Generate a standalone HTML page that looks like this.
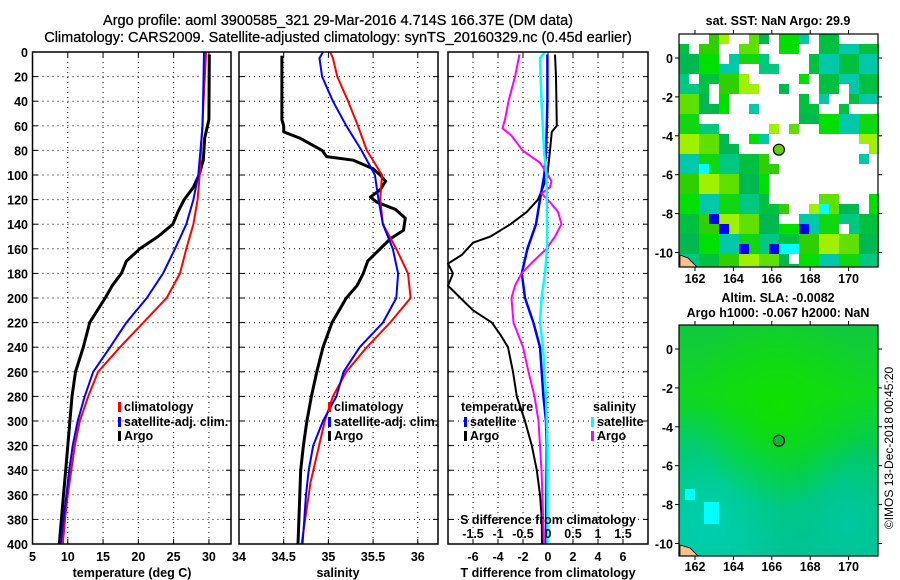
<!DOCTYPE html>
<html><head><meta charset="utf-8"><style>
html,body{margin:0;padding:0;background:#fff;}
svg{display:block;font-family:"Liberation Sans",Arial,sans-serif;}
.tk{font-size:12.5px;font-weight:bold;fill:#000;}
.tt{font-size:14.5px;fill:#000;stroke:#000;stroke-width:0.25;}
</style></head><body>
<svg id="fig" width="900" height="580" viewBox="0 0 900 580" xmlns="http://www.w3.org/2000/svg">
<rect width="900" height="580" fill="#fff"/>
<text class="tt" x="338" y="25" text-anchor="middle">Argo profile: aoml 3900585_321 29-Mar-2016 4.714S 166.37E (DM data)</text>
<text class="tt" x="338" y="42" text-anchor="middle">Climatology: CARS2009. Satellite-adjusted climatology: synTS_20160329.nc (0.45d earlier)</text>
<g id="p1"></g>
<g id="p2"></g>
<g id="p3"></g>
<g id="m1"></g>
<g id="m2"></g>
<text x="893" y="448" font-size="12" text-anchor="middle" transform="rotate(-90 893 448)">©IMOS 13-Dec-2018 00:45:20</text>
</svg>
<script>
// ---- data ----
const depthTicks=[0,20,40,60,80,100,120,140,160,180,200,220,240,260,280,300,320,340,360,380,400];
const tempTicks=[5,10,15,20,25,30];
const salTicks=[34,34.5,35,35.5,36];
const tdTicks=[-6,-4,-2,0,2,4,6];
const sdTicks=[-1.5,-1,-0.5,0,0.5,1,1.5];
const tClimD=[0,100,120,140,160,180,200,220,240,260,280,300,320,340,360,380,400];
const tClim=[29.6,28.7,28.4,27.8,26.8,25.9,24.0,20.7,17.4,14.3,12.9,11.7,11.0,10.5,10.0,9.6,9.3];
const tSatD=[0,60,100,120,140,160,180,200,220,240,260,280,300,320,340,360,380,400];
const tSat=[29.3,29.1,28.5,27.8,26.8,25.2,23.5,21.2,18.3,16.0,13.6,12.4,11.4,10.7,10.2,9.8,9.4,9.0];
const tArgoD=[2,55,60,70,88,100,110,120,130,140,150,160,170,180,190,200,210,220,240,260,280,300,320,340,360,380,400];
const tArgo=[30.05,30.0,29.8,29.4,29.2,28.6,27.8,26.5,25.6,24.9,22.8,20.2,18.3,17.6,16.3,15.3,14.2,13.1,12.2,11.1,10.6,10.3,10.0,9.7,9.4,9.1,8.8];
const sClimD=[0,5,20,40,60,80,100,120,140,160,180,200,220,240,260,280,300,350,400];
const sClim=[35.02,35.05,35.1,35.22,35.33,35.43,35.6,35.58,35.61,35.76,35.89,35.92,35.69,35.43,35.2,35.05,34.96,34.8,34.7];
const sSatD=[0,5,20,40,60,80,100,120,140,160,180,200,220,240,260,280,300,320,340,360,380,400];
const sSat=[34.94,34.9,34.93,35.05,35.2,35.37,35.52,35.56,35.61,35.72,35.78,35.76,35.61,35.35,35.17,35.09,34.94,34.83,34.78,34.75,34.73,34.71];
const sArgoD=[3,55,60,65,70,80,85,88,95,100,105,112,118,122,128,135,145,152,160,170,180,190,200,220,240,260,280,300,320,340,360,380,400];
const sArgo=[34.48,34.48,34.5,34.5,34.68,34.93,34.98,35.28,35.5,35.58,35.64,35.58,35.47,35.54,35.75,35.86,35.84,35.69,35.58,35.44,35.39,35.32,35.2,35.04,34.94,34.87,34.81,34.76,34.72,34.69,34.68,34.67,34.66];
const dtArgoD=[2,20,60,65,80,100,110,120,130,140,150,155,165,172,180,190,200,210,220,230,240,260,280,300,320,340,360,380,400];
const dtArgo=[0.56,0.64,0.7,0.3,0.16,-0.05,-0.4,-0.8,-1.7,-3.0,-4.6,-6.0,-6.9,-8.0,-7.6,-8.0,-7.0,-6.0,-4.5,-3.8,-3.2,-2.8,-2.5,-1.84,-1.3,-0.9,-0.64,-0.5,-0.48];
const dtSatD=[2,40,60,80,100,120,140,160,180,200,220,240,280,300,320,400];
const dtSat=[-0.05,-0.05,-0.1,-0.15,-0.3,-0.64,-0.96,-1.65,-2.1,-1.84,-1.17,-0.64,-0.37,-0.16,-0.1,-0.16];
const dsArgoD=[2,20,40,55,62,68,75,80,90,100,105,110,115,122,130,140,150,160,170,180,190,200,220,240,260,280,300,340,400];
const dsArgo=[-0.57,-0.66,-0.79,-0.86,-0.91,-0.73,-0.6,-0.51,-0.16,0,0.07,0.04,-0.13,0.04,0.2,0.27,0.14,-0.03,-0.29,-0.53,-0.66,-0.73,-0.69,-0.5,-0.39,-0.27,-0.19,-0.13,-0.08];
const dsSatD=[0,5,40,80,100,140,160,180,200,220,240,280,320,400];
const dsSat=[-0.06,-0.16,-0.13,-0.08,-0.03,-0.02,-0.02,-0.06,-0.13,-0.16,-0.1,-0.04,-0.01,-0.01];
const latTicks=[0,-2,-4,-6,-8,-10];
const lonTicks=[162,164,166,168,170];
const argoLon=166.37, argoLat=-4.714;

const NS="http://www.w3.org/2000/svg";
function mk(tag,attrs,parent){const e=document.createElementNS(NS,tag);for(const k in attrs)e.setAttribute(k,attrs[k]);parent.appendChild(e);return e;}
function txt(s,x,y,anchor,cls,parent){const t=mk('text',{x:x,y:y,'text-anchor':anchor,class:cls||'tk'},parent);t.textContent=s;return t;}
const TOP=52,BOT=544;
const yD=d=>TOP+(BOT-TOP)*d/400;

function panel(g,x0,x1,xmin,xmax,xticks,fmt,showY){
  const xs=v=>x0+(x1-x0)*(v-xmin)/(xmax-xmin);
  const grid=mk('g',{},g);
  
  
  xticks.forEach(v=>{const x=xs(v);if(x>x0+1&&x<x1-1)mk('line',{x1:x,y1:TOP,x2:x,y2:BOT,stroke:'#000','stroke-width':1,'stroke-dasharray':'1 4'},grid);
    mk('line',{x1:x,y1:BOT,x2:x,y2:BOT-5,stroke:'#000'},grid);mk('line',{x1:x,y1:TOP,x2:x,y2:TOP+5,stroke:'#000'},grid);});
  depthTicks.forEach(d=>{const y=yD(d);if(d>0&&d<400)mk('line',{x1:x0,y1:y,x2:x1,y2:y,stroke:'#000','stroke-width':1,'stroke-dasharray':'1 4'},grid);
    mk('line',{x1:x0,y1:y,x2:x0+5,y2:y,stroke:'#000'},grid);mk('line',{x1:x1,y1:y,x2:x1-5,y2:y,stroke:'#000'},grid);});
  if(xticks.length){const lab=mk('g',{},g);
    
    
    xticks.forEach(v=>txt(fmt(v),xs(v),561,'middle','tk',lab));}
  if(showY){const lab=mk('g',{},g);
    
    
    depthTicks.forEach(d=>txt(String(d),28,yD(d)+5,'end','tk',lab));}
  return xs;
}
function frame(g,x0,x1){const r=mk('rect',{x:x0,y:TOP,width:x1-x0,height:BOT-TOP,fill:'none',stroke:'#000','stroke-width':1.5},g);
  
  }
function line(g,xs,vals,ds,color,w,name){
  const pts=vals.map((v,i)=>xs(v).toFixed(1)+','+yD(ds[i]).toFixed(1)).join(' ');
  const p=mk('polyline',{points:pts,fill:'none',stroke:color,'stroke-width':w,'stroke-linejoin':'round'},g);
  
  
}
function legend(g,x,y,color,label,name){
  const lg=mk('g',{},g);
  
  
  if(color)mk('rect',{x:x,y:y-9,width:3,height:10,fill:color},lg);
  txt(label,x+(color?6:0),y,'start','tk',lg);
}
// Panel 1
const g1=document.getElementById('p1');
const xs1=panel(g1,32.5,231,5,33.13,tempTicks,v=>String(v),true);
line(g1,xs1,tArgo,tArgoD,'#000',3,'argo-temperature-line');
line(g1,xs1,tClim,tClimD,'#f00',2,'climatology-temperature-line');
line(g1,xs1,tSat,tSatD,'#00f',2,'satellite-temperature-line');
frame(g1,32.5,231);
legend(g1,118,411,'#f00','climatology','legend-climatology');
legend(g1,118,426,'#00f','satellite-adj. clim.','legend-satellite');
legend(g1,118,440,'#000','Argo','legend-argo');
txt('temperature (deg C)',132,577,'middle','tk',g1);
// Panel 2
const g2=document.getElementById('p2');
const xs2=panel(g2,239,438,34,36.226,salTicks,v=>String(v),false);
line(g2,xs2,sArgo,sArgoD,'#000',3,'argo-salinity-line');
line(g2,xs2,sClim,sClimD,'#f00',2,'climatology-salinity-line');
line(g2,xs2,sSat,sSatD,'#00f',2,'satellite-salinity-line');
frame(g2,239,438);
legend(g2,328,411,'#f00','climatology','legend-climatology');
legend(g2,328,426,'#00f','satellite-adj. clim.','legend-satellite');
legend(g2,328,440,'#000','Argo','legend-argo');
txt('salinity',338,577,'middle','tk',g2);
// Panel 3
const g3=document.getElementById('p3');
const xs3=panel(g3,448,648,-8,8,tdTicks,v=>String(v),false);
const xsS=v=>548+50*v;
line(g3,xs3,dtArgo,dtArgoD,'#000',2,'argo-t-difference-line');
line(g3,xs3,dtSat,dtSatD,'#00f',2.5,'satellite-t-difference-line');
line(g3,xsS,dsArgo,dsArgoD,'#f0f',2,'argo-s-difference-line');
line(g3,xsS,dsSat,dsSatD,'#0ff',2.5,'satellite-s-difference-line');
frame(g3,448,648);
const sl=mk('g',{},g3);


txt('S difference from climatology',548,524,'middle','tk',sl);
sdTicks.forEach(v=>txt(String(v),xsS(v),538,'middle','tk',sl));
legend(g3,461,411,null,'temperature','legend-temperature-header');
legend(g3,464,426,'#00f','satellite','legend-t-satellite');
legend(g3,464,440,'#000','Argo','legend-t-argo');
legend(g3,593,411,null,'salinity','legend-salinity-header');
legend(g3,591,426,'#0ff','satellite','legend-s-satellite');
legend(g3,591,440,'#f0f','Argo','legend-s-argo');
txt('T difference from climatology',548,577,'middle','tk',g3);

// Maps
const LX0=679,LX1=878;
const lonX=l=>695+(l-162)*19.2;
function mapAxes(g,y0,y1,lat0y,lab){
  const r=mk('rect',{x:LX0,y:y0,width:LX1-LX0,height:y1-y0,fill:'none',stroke:'#000','stroke-width':1.2},g);
  
  
  latTicks.forEach(la=>{const y=lat0y-la*19.45;
    mk('line',{x1:LX0-4,y1:y,x2:LX0,y2:y,stroke:'#000'},g);mk('line',{x1:LX1,y1:y,x2:LX1+4,y2:y,stroke:'#000'},g);
    txt(String(la),673,y+5,'end','tk',g);});
  lonTicks.forEach(lo=>{const x=lonX(lo);
    mk('line',{x1:x,y1:y1,x2:x,y2:y1+4,stroke:'#000'},g);mk('line',{x1:x,y1:y0-4,x2:x,y2:y0,stroke:'#000'},g);
    txt(String(lo),x,lab,'middle','tk',g);});
}
// SST map
const m1=document.getElementById('m1');
const mask=[
"...##..##.###.##....",
"#.##..##..##..######",
"####.####....#######",
"######..##...#######",
"#.#####.....#.######",
"###.####..#...##.###",
"###.#.......#.#..###",
"#####..#....##..#...",
"##..........########",
"####.....#.#..######",
"#####..##.........##",
"######.............#",
"#########.........#.",
"##########..........",
"#########...........",
"#########...........",
"#########.....##...#",
"###########..#####.#",
"##########..########",
"################.###",
"####################",
"####################",
"###########.########",
"####################"];
const pal=["#00c040","#10d810","#00e000","#60e000","#30d000","#00c880","#00c8a8","#00b850","#a0f000"];
const y1top=34,y1bot=267;
const cg=mk('g',{},m1);


for(let r=0;r<mask.length;r++)for(let c=0;c<20;c++){
  if(mask[r][c]!=='#')continue;
  const y=y1top+r*10; if(y>=y1bot)continue;
  const h=Math.min(10,y1bot-y);
  const k=(Math.floor(r/2)*7+Math.floor(c/2)*13)%pal.length;
  let col=pal[k];
  if(c>12&&r<8)col=((Math.floor(r/2)+Math.floor(c/2))%2==0)?"#00c8a8":"#00c040";
  mk('rect',{x:LX0+c*10,y:y,width:10,height:h,fill:col},cg);
}
[[3,18,'#0000ff'],[4,19,'#0000ff'],[6,21,'#0000ff'],[9,21,'#0000ff'],[10,21,'#00ffff'],[11,21,'#00ffff'],[14,17,'#00ffff'],[12,19,'#0000ff'],[2,13,'#00ffff']].forEach(a=>{
  mk('rect',{x:LX0+a[0]*10,y:y1top+a[1]*10,width:10,height:Math.min(10,y1bot-(y1top+a[1]*10)),fill:a[2]},cg);});
mk('path',{d:'M680,255 L688,258 L697,267 L680,267 Z',fill:'#f8c090',stroke:'#000','stroke-width':0.8},m1);
const c1=mk('circle',{cx:lonX(argoLon),cy:58-argoLat*19.45,r:5.5,fill:'#60d000',stroke:'#000','stroke-width':1.2},m1);


mapAxes(m1,y1top,y1bot,58,283);
txt('sat. SST: NaN Argo: 29.9',778,25,'middle','tk',m1);
// SLA map
const m2=document.getElementById('m2');
const defs=mk('defs',{},m2);
const lg=mk('linearGradient',{id:'g2a',x1:0,y1:0,x2:0,y2:1},defs);
mk('stop',{offset:'0','stop-color':'#10c840'},lg);mk('stop',{offset:'0.3','stop-color':'#10d820'},lg);mk('stop',{offset:'0.6','stop-color':'#00c860'},lg);mk('stop',{offset:'1','stop-color':'#00c090'},lg);
const rg=mk('radialGradient',{id:'g2b',cx:0.5,cy:0.35,r:0.45},defs);
mk('stop',{offset:'0','stop-color':'#10e000','stop-opacity':1},rg);mk('stop',{offset:'1','stop-color':'#10e000','stop-opacity':0},rg);
const rg2=mk('radialGradient',{id:'g2c',cx:0.15,cy:0.85,r:0.5},defs);
mk('stop',{offset:'0','stop-color':'#00d0b0','stop-opacity':1},rg2);mk('stop',{offset:'1','stop-color':'#00d0b0','stop-opacity':0},rg2);
const rg3=mk('radialGradient',{id:'g2d',cx:0.85,cy:0.85,r:0.35},defs);
mk('stop',{offset:'0','stop-color':'#00c8a0','stop-opacity':1},rg3);mk('stop',{offset:'1','stop-color':'#00c8a0','stop-opacity':0},rg3);
const y2top=325,y2bot=556;
mk('rect',{x:LX0,y:y2top,width:LX1-LX0,height:y2bot-y2top,fill:'url(#g2a)'},m2);
mk('rect',{x:LX0,y:y2top,width:LX1-LX0,height:y2bot-y2top,fill:'url(#g2c)'},m2);
mk('rect',{x:LX0,y:y2top,width:LX1-LX0,height:y2bot-y2top,fill:'url(#g2d)'},m2);
mk('rect',{x:LX0,y:y2top,width:LX1-LX0,height:y2bot-y2top,fill:'url(#g2b)'},m2);
mk('rect',{x:685,y:489,width:10,height:11,fill:'#00ffff'},m2);
mk('rect',{x:704,y:502,width:15,height:22,fill:'#00ffff'},m2);
mk('path',{d:'M680,545 L690,548 L698,556 L680,556 Z',fill:'#f8c090',stroke:'#000','stroke-width':0.8},m2);
const c2=mk('circle',{cx:lonX(argoLon),cy:349-argoLat*19.45,r:5.5,fill:'#10b830',stroke:'#000','stroke-width':1.2},m2);


mapAxes(m2,y2top,y2bot,349,571);
txt('Altim. SLA: -0.0082',778,302,'middle','tk',m2);
txt('Argo h1000: -0.067 h2000: NaN',778,317,'middle','tk',m2);
</script>
</body></html>
